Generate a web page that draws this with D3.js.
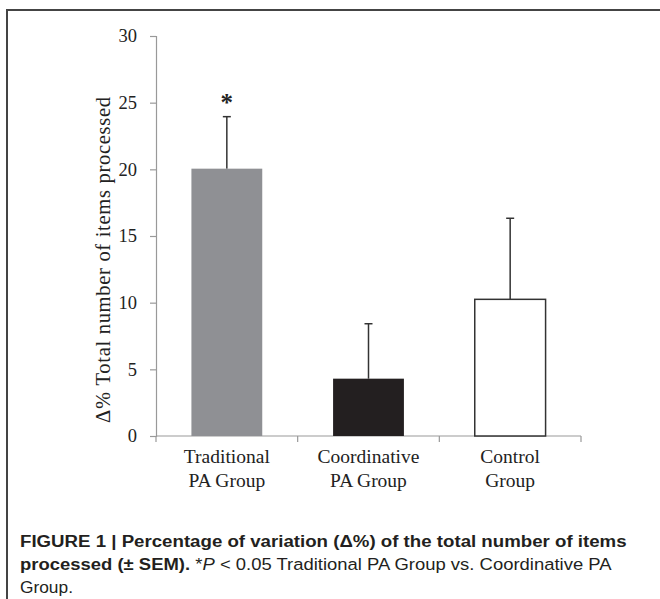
<!DOCTYPE html>
<html>
<head>
<meta charset="utf-8">
<script src="https://cdn.jsdelivr.net/npm/d3@7"></script>
<style>
  body { margin: 0; background: #fff; }
  svg { display: block; }
</style>
</head>
<body>
<svg id="chart" width="660" height="599"></svg>
<script>
// data
var groups = [["Traditional", "PA Group"], ["Coordinative", "PA Group"], ["Control", "Group"]];
var means = [20.05, 4.3, 10.25];
var sems = [3.9, 4.12, 6.08];
var barColors = ["#8f9094", "#231f20", "#ffffff"];
var yTicks = [0, 5, 10, 15, 20, 25, 30];
var starred = [true, false, false];

var svg = d3.select("#chart");

// frame round the figure (left and top edge only are visible)
svg.append("path")
    .attr("d", "M7,600V10H660")
    .attr("fill", "none")
    .attr("stroke", "#444")
    .attr("stroke-width", 2);

var x = d3.scaleBand()
    .domain(d3.range(groups.length))
    .range([156, 581])
    .paddingInner(0.5)
    .paddingOuter(0.25);

var y = d3.scaleLinear()
    .domain([0, 30])
    .range([436, 36]);

var serif = "'Liberation Serif', 'Times New Roman', serif";

// y axis
var yAxis = svg.append("g")
    .attr("transform", "translate(156,0)")
    .call(d3.axisLeft(y).tickValues(yTicks).tickSize(6).tickPadding(13));
yAxis.select(".domain").attr("stroke", "#999").attr("stroke-width", 1.2);
yAxis.selectAll(".tick line").attr("stroke", "#999").attr("stroke-width", 1.2);
yAxis.selectAll(".tick text")
    .attr("font-family", serif)
    .attr("font-size", 18.5)
    .attr("fill", "#222");

// x axis: ticks at the band edges
var xAxis = svg.append("g").attr("transform", "translate(0,436)");
xAxis.append("line")
    .attr("x1", x.range()[0]).attr("x2", x.range()[1])
    .attr("stroke", "#999").attr("stroke-width", 1.2);
var step = x.step();
xAxis.selectAll("line.tk")
    .data(d3.range(groups.length + 1))
    .enter().append("line")
    .attr("class", "tk")
    .attr("x1", d => x.range()[0] + d * step)
    .attr("x2", d => x.range()[0] + d * step)
    .attr("y1", 0).attr("y2", 6)
    .attr("stroke", "#999").attr("stroke-width", 1.2);

var labels = svg.append("g").selectAll("text")
    .data(groups)
    .enter().append("text")
    .attr("text-anchor", "middle")
    .attr("font-family", serif)
    .attr("font-size", 19.5)
    .attr("fill", "#222");
labels.each(function(d, i) {
    var t = d3.select(this);
    d.forEach(function(line, j) {
        t.append("tspan")
            .attr("x", x(i) + x.bandwidth() / 2)
            .attr("y", 463 + j * 24)
            .text(line);
    });
});

// y axis title
svg.append("text")
    .attr("transform", "translate(110,260) rotate(-90)")
    .attr("text-anchor", "middle")
    .attr("font-family", serif)
    .attr("font-size", 20.5)
    .attr("textLength", 326)
    .attr("lengthAdjust", "spacing")
    .attr("fill", "#222")
    .text("\u0394% Total number of items processed");

// error bars (upper half only)
var err = svg.append("g");
means.forEach(function(m, i) {
    var cx = x(i) + x.bandwidth() / 2;
    err.append("line")
        .attr("x1", cx).attr("x2", cx)
        .attr("y1", y(m)).attr("y2", y(m + sems[i]))
        .attr("stroke", "#333").attr("stroke-width", 1.5);
    err.append("line")
        .attr("x1", cx - 4).attr("x2", cx + 4)
        .attr("y1", y(m + sems[i])).attr("y2", y(m + sems[i]))
        .attr("stroke", "#333").attr("stroke-width", 1.5);
});

// bars
svg.append("g").selectAll("rect")
    .data(means)
    .enter().append("rect")
    .attr("x", (d, i) => x(i))
    .attr("y", d => y(d))
    .attr("width", x.bandwidth())
    .attr("height", d => y(0) - y(d))
    .attr("fill", (d, i) => barColors[i])
    .attr("stroke", (d, i) => i == 2 ? "#333" : "none")
    .attr("stroke-width", 1.5);

// significance star
svg.append("g").selectAll("text")
    .data(means.filter((d, i) => starred[i]).map((d, i) => i))
    .enter().append("text")
    .attr("x", i => x(i) + x.bandwidth() / 2)
    .attr("y", i => y(means[i] + sems[i]) - 6)
    .attr("text-anchor", "middle")
    .attr("font-family", serif)
    .attr("font-weight", "bold")
    .attr("font-size", 25)
    .attr("fill", "#222")
    .text("*");

// caption
var sans = "'Liberation Sans', Arial, sans-serif";
var caption = [
    {y: 547, width: 607, parts: [["FIGURE 1 | Percentage of variation (\u0394%) of the total number of items", "bold", "normal"]]},
    {y: 570, width: 592, parts: [["processed (\u00b1 SEM).", "bold", "normal"], [" *", "normal", "normal"], ["P", "normal", "italic"], [" < 0.05 Traditional PA Group vs. Coordinative PA", "normal", "normal"]]},
    {y: 593, width: 53, parts: [["Group.", "normal", "normal"]]}
];
caption.forEach(function(c) {
    var t = svg.append("text")
        .attr("font-family", sans)
        .attr("font-size", 17)
        .attr("fill", "#231f20");
    c.parts.forEach(function(p) {
        t.append("tspan")
            .attr("font-weight", p[1])
            .attr("font-style", p[2])
            .text(p[0]);
    });
    var w = t.node().getComputedTextLength();
    t.attr("transform", "translate(20," + c.y + ") scale(" + (c.width / w) + ",1)");
});
</script>
</body>
</html>
